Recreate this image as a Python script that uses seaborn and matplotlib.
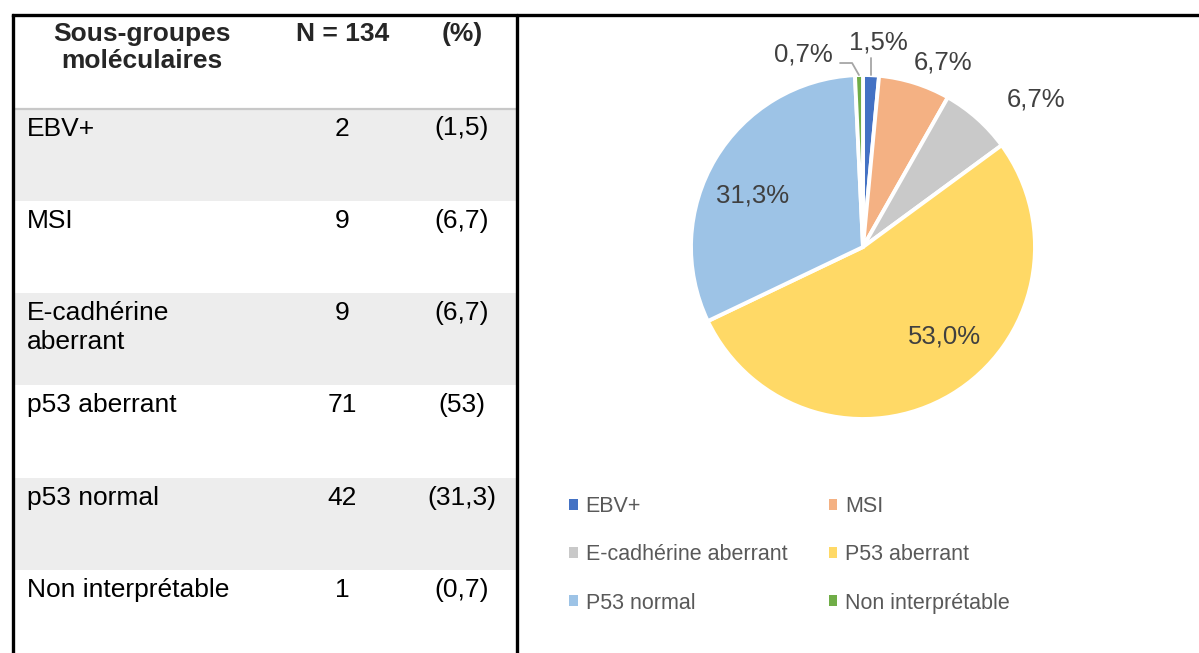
import numpy as np
import matplotlib
matplotlib.use("Agg")
import matplotlib.pyplot as plt
from matplotlib.patches import Patch, Rectangle
import seaborn as sns

# Data
table_labels = ["EBV+", "MSI", "E-cadhérine\naberrant", "p53 aberrant", "p53 normal", "Non interprétable"]
counts = [2, 9, 9, 71, 42, 1]
pct_text = ["(1,5)", "(6,7)", "(6,7)", "(53)", "(31,3)", "(0,7)"]
pie_labels = ["EBV+", "MSI", "E-cadhérine aberrant", "P53 aberrant", "P53 normal", "Non interprétable"]
pie_pct = ["1,5%", "6,7%", "6,7%", "53,0%", "31,3%", "0,7%"]
colors = ["#4472C4", "#F4B183", "#C9C9C9", "#FFD966", "#9DC3E6", "#70AD47"]

# label placement: radius and angle shift from wedge middle
label_r = [1.19, 1.17, 1.32, 0.70, 0.71, 1.17]
label_shift = [-1.5, -6, -8, 11.4, 5.8, 16]

sns.set_theme(style="white")
plt.rcParams["font.family"] = ["Liberation Sans", "DejaVu Sans"]

W, H = 1199, 653
fig = plt.figure(figsize=(W / 100, H / 100), dpi=100)

# background axes in pixel units for the table and frame
bg = fig.add_axes([0, 0, 1, 1])
bg.set_xlim(0, W)
bg.set_ylim(H, 0)
bg.axis("off")

left, right_tab, top = 12.5, 517, 14.5
head_bottom, row_h = 108.5, 92.3

for i, lab in enumerate(table_labels):
    y0 = head_bottom + i * row_h
    if i % 2 == 0:
        bg.add_patch(Rectangle((left, y0), right_tab - left, row_h, color="#EDEDED", lw=0, zorder=0))
    bg.text(27, y0 + 8, lab, fontsize=19, va="top", ha="left", color="black", linespacing=1.28)
    bg.text(342, y0 + 8, str(counts[i]), fontsize=19, va="top", ha="center", color="black")
    bg.text(462, y0 + 8, pct_text[i], fontsize=19, va="top", ha="center", color="black")

bg.plot([left, right_tab], [head_bottom, head_bottom], color="#C8C8C8", lw=1.6, zorder=2)
bg.text(142, 22, "Sous-groupes\nmoléculaires", fontsize=19, fontweight="bold", va="top", ha="center",
        linespacing=1.15)
bg.text(343, 22, "N = 134", fontsize=19, fontweight="bold", va="top", ha="center")
bg.text(462, 22, "(%)", fontsize=19, fontweight="bold", va="top", ha="center")

# frame lines
bg.plot([left, W], [top, top], color="black", lw=2.4, solid_capstyle="projecting", zorder=3)
bg.plot([left, left], [top, H], color="black", lw=2.4, zorder=3)
bg.plot([right_tab, right_tab], [top, H], color="black", lw=2.4, zorder=3)

# pie chart
cx, cy, r = 863, 247, 172
ax = fig.add_axes([(cx - r) / W, (H - cy - r) / H, 2 * r / W, 2 * r / H])
wedges, _ = ax.pie(counts, colors=sns.color_palette(colors), startangle=90, counterclock=False,
                   radius=1, wedgeprops=dict(edgecolor="white", linewidth=2.8))
ax.set_xlim(-1, 1)
ax.set_ylim(-1, 1)
ax.axis("off")

for w, txt, lr, sh in zip(wedges, pie_pct, label_r, label_shift):
    mid = np.deg2rad((w.theta1 + w.theta2) / 2 + sh)
    ax.text(lr * np.cos(mid), lr * np.sin(mid), txt, fontsize=18.5, color="#404040",
            ha="center", va="center", clip_on=False)

# leader lines for the two thin slices
for k, w in enumerate(wedges):
    mid = np.deg2rad((w.theta1 + w.theta2) / 2)
    ex, ey = np.cos(mid), np.sin(mid)
    if k == 0:
        ax.plot([ex, ex], [ey, ey + 0.1], color="#A6A6A6", lw=1.3, clip_on=False)
    if k == 5:
        ax.plot([ex, ex - 0.04, ex - 0.11], [ey, ey + 0.07, ey + 0.07], color="#A6A6A6", lw=1.3,
                clip_on=False)

# legend, filled row by row like the original
order = [0, 2, 4, 1, 3, 5]
handles = [Patch(facecolor=colors[i], edgecolor="none", label=pie_labels[i]) for i in order]
fig.legend(handles=handles, ncol=2, frameon=False, loc="upper left",
           bbox_to_anchor=(550 / W, 1 - 477 / H), fontsize=15.5, labelcolor="#595959",
           handlelength=0.4, handleheight=0.4, handletextpad=0.35, columnspacing=1.93,
           labelspacing=1.26)

fig.savefig("out.png", dpi=100)
